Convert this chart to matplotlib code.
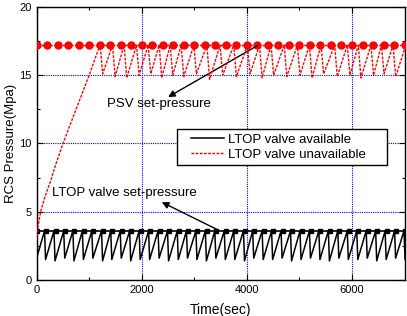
import matplotlib
matplotlib.use("Agg")
import matplotlib.pyplot as plt
from matplotlib.patches import Rectangle

plt.rcParams['font.family'] = ['Liberation Sans', 'DejaVu Sans']

# ---- data ----
# LTOP valve available: sawtooth between LTOP set-pressure and trough values
ltop_set = 3.6
ltop_start_p = 1.6
ltop_peak_t = [150, 330, 515, 690, 870, 1050, 1235, 1410, 1590, 1770, 1950, 2130,
               2310, 2490, 2675, 2850, 3030, 3210, 3390, 3570, 3750, 3935, 4110, 4290,
               4470, 4650, 4830, 5010, 5190, 5370, 5550, 5730, 5910, 6090, 6270, 6450,
               6630, 6810, 6990]
ltop_trough_p = [1.5, 1.4, 1.6, 1.4, 1.5, 1.6, 1.4, 1.5, 1.6, 1.4, 1.5, 1.5,
                 1.6, 1.4, 1.5, 1.6, 1.5, 1.4, 1.6, 1.5, 1.5, 1.4, 1.6, 1.5,
                 1.5, 1.6, 1.4, 1.5, 1.6, 1.5, 1.4, 1.6, 1.5, 1.5, 1.6, 1.4,
                 1.5, 1.6, 1.5]

# LTOP valve unavailable: initial ramp then PSV cycling
ramp_t = [0, 30, 76, 150, 253, 350, 475, 600, 800, 1000, 1100]
ramp_p = [2.9, 4.0, 5.0, 6.0, 7.1, 8.3, 9.7, 11.0, 13.0, 15.0, 16.1]
psv_set = 17.2
psv_trough_t = [1257, 1493, 1714, 1950, 2171, 2381, 2590, 2800, 3040, 3290, 3540,
                3800, 4060, 4290, 4510, 4760, 5010, 5240, 5460, 5720, 5960, 6170,
                6410, 6610, 6830]
psv_trough_p = [15.1, 14.9, 14.8, 15.0, 15.1, 14.8, 15.0, 14.9, 15.1, 14.7, 15.0,
                14.9, 15.1, 14.8, 15.0, 14.9, 15.0, 14.8, 15.1, 14.9, 15.0, 14.8,
                15.0, 15.1, 14.9]
psv_end = (7000, 16.9)

# set-pressure marker lines
psv_marker_t = [0, 200, 400, 600, 800, 1000, 1200, 1400, 1600, 1800, 2000, 2200,
                2400, 2600, 2800, 3000, 3200, 3400, 3600, 3800, 4000, 4200, 4400,
                4600, 4800, 5000, 5200, 5400, 5600, 5800, 6000, 6200, 6400, 6600,
                6800, 7000]
ltop_marker_t = [0, 180, 360, 540, 720, 900, 1080, 1260, 1440, 1620, 1800, 1980,
                 2160, 2340, 2520, 2700, 2880, 3060, 3240, 3420, 3600, 3780, 3960,
                 4140, 4320, 4500, 4680, 4860, 5040, 5220, 5400, 5580, 5760, 5940,
                 6120, 6300, 6480, 6660, 6840, 7000]

x_ticks = [0, 2000, 4000, 6000]
y_ticks = [0, 5, 10, 15, 20]

# ---- build series ----
bt, bp = [0], [ltop_start_p]
for pk, tr in zip(ltop_peak_t, ltop_trough_p):
    bt += [pk, pk + 20]
    bp += [ltop_set, tr]

rt, rp = list(ramp_t), list(ramp_p)
for tt, tp in zip(psv_trough_t, psv_trough_p):
    rt += [tt - 50, tt]
    rp += [psv_set, tp]
rt.append(psv_end[0]); rp.append(psv_end[1])

fig = plt.figure(figsize=(4.07, 3.16), dpi=100)
ax = fig.add_axes([0.090, 0.114, 0.904, 0.864])

ax.plot(psv_marker_t, [psv_set] * len(psv_marker_t), color='red', linestyle=(0, (2, 1)),
        linewidth=1.0, marker='o', markersize=5, zorder=3)
ax.plot(ltop_marker_t, [ltop_set] * len(ltop_marker_t), color='black', linestyle='-',
        linewidth=1.2, marker='s', markersize=3.5, zorder=3)
ax.plot(bt, bp, color='black', linewidth=1.1, label='LTOP valve available', zorder=4)
ax.plot(rt, rp, color='red', linestyle=(0, (2, 1)), linewidth=1.0,
        label='LTOP valve unavailable', zorder=4)

ax.set_xlim(0, 7000)
ax.set_ylim(0, 20)
ax.set_xticks(x_ticks)
ax.set_yticks(y_ticks)
ax.set_xticks([1000, 3000, 5000], minor=True)
ax.set_yticks([2.5, 7.5, 12.5, 17.5], minor=True)
ax.tick_params(which='both', direction='in', top=True, right=True, labelsize=8)
ax.tick_params(which='major', length=4, width=0.8)
ax.tick_params(which='minor', length=2, width=0.8)
ax.grid(True, which='major', color='blue', linestyle=(0, (1, 1)), linewidth=0.8)
for s in ax.spines.values():
    s.set_linewidth(1.0)

ax.set_xlabel('Time(sec)', fontsize=10, labelpad=6)
ax.set_ylabel('RCS Pressure(Mpa)', fontsize=9.5, labelpad=1.5)

ax.text(1339, 12.9, 'PSV set-pressure', fontsize=9.5, va='center', ha='left')
ax.annotate('', xy=(2501, 13.4), xytext=(4215, 17.2),
            arrowprops=dict(arrowstyle='-|>', color='black', lw=1.0,
                            mutation_scale=10, shrinkA=0, shrinkB=0))
ax.text(290, 6.4, 'LTOP valve set-pressure', fontsize=9.5, va='center', ha='left')
ax.annotate('', xy=(2381, 5.7), xytext=(3453, 3.66),
            arrowprops=dict(arrowstyle='-|>', color='black', lw=1.0,
                            mutation_scale=10, shrinkA=0, shrinkB=0))

# legend box drawn as a frame, entries placed inside it
ax.add_patch(Rectangle((0.381, 0.421), 0.571, 0.131, transform=ax.transAxes,
                       facecolor='white', edgecolor='black', linewidth=1.0, zorder=5))
leg = ax.legend(loc='center left', bbox_to_anchor=(0.420, 0.4865), fontsize=9.5,
                frameon=False, handlelength=2.5, borderpad=0, borderaxespad=0,
                labelspacing=0.2, handletextpad=0.3)
leg.set_zorder(6)

fig.savefig('out.png', dpi=100)
